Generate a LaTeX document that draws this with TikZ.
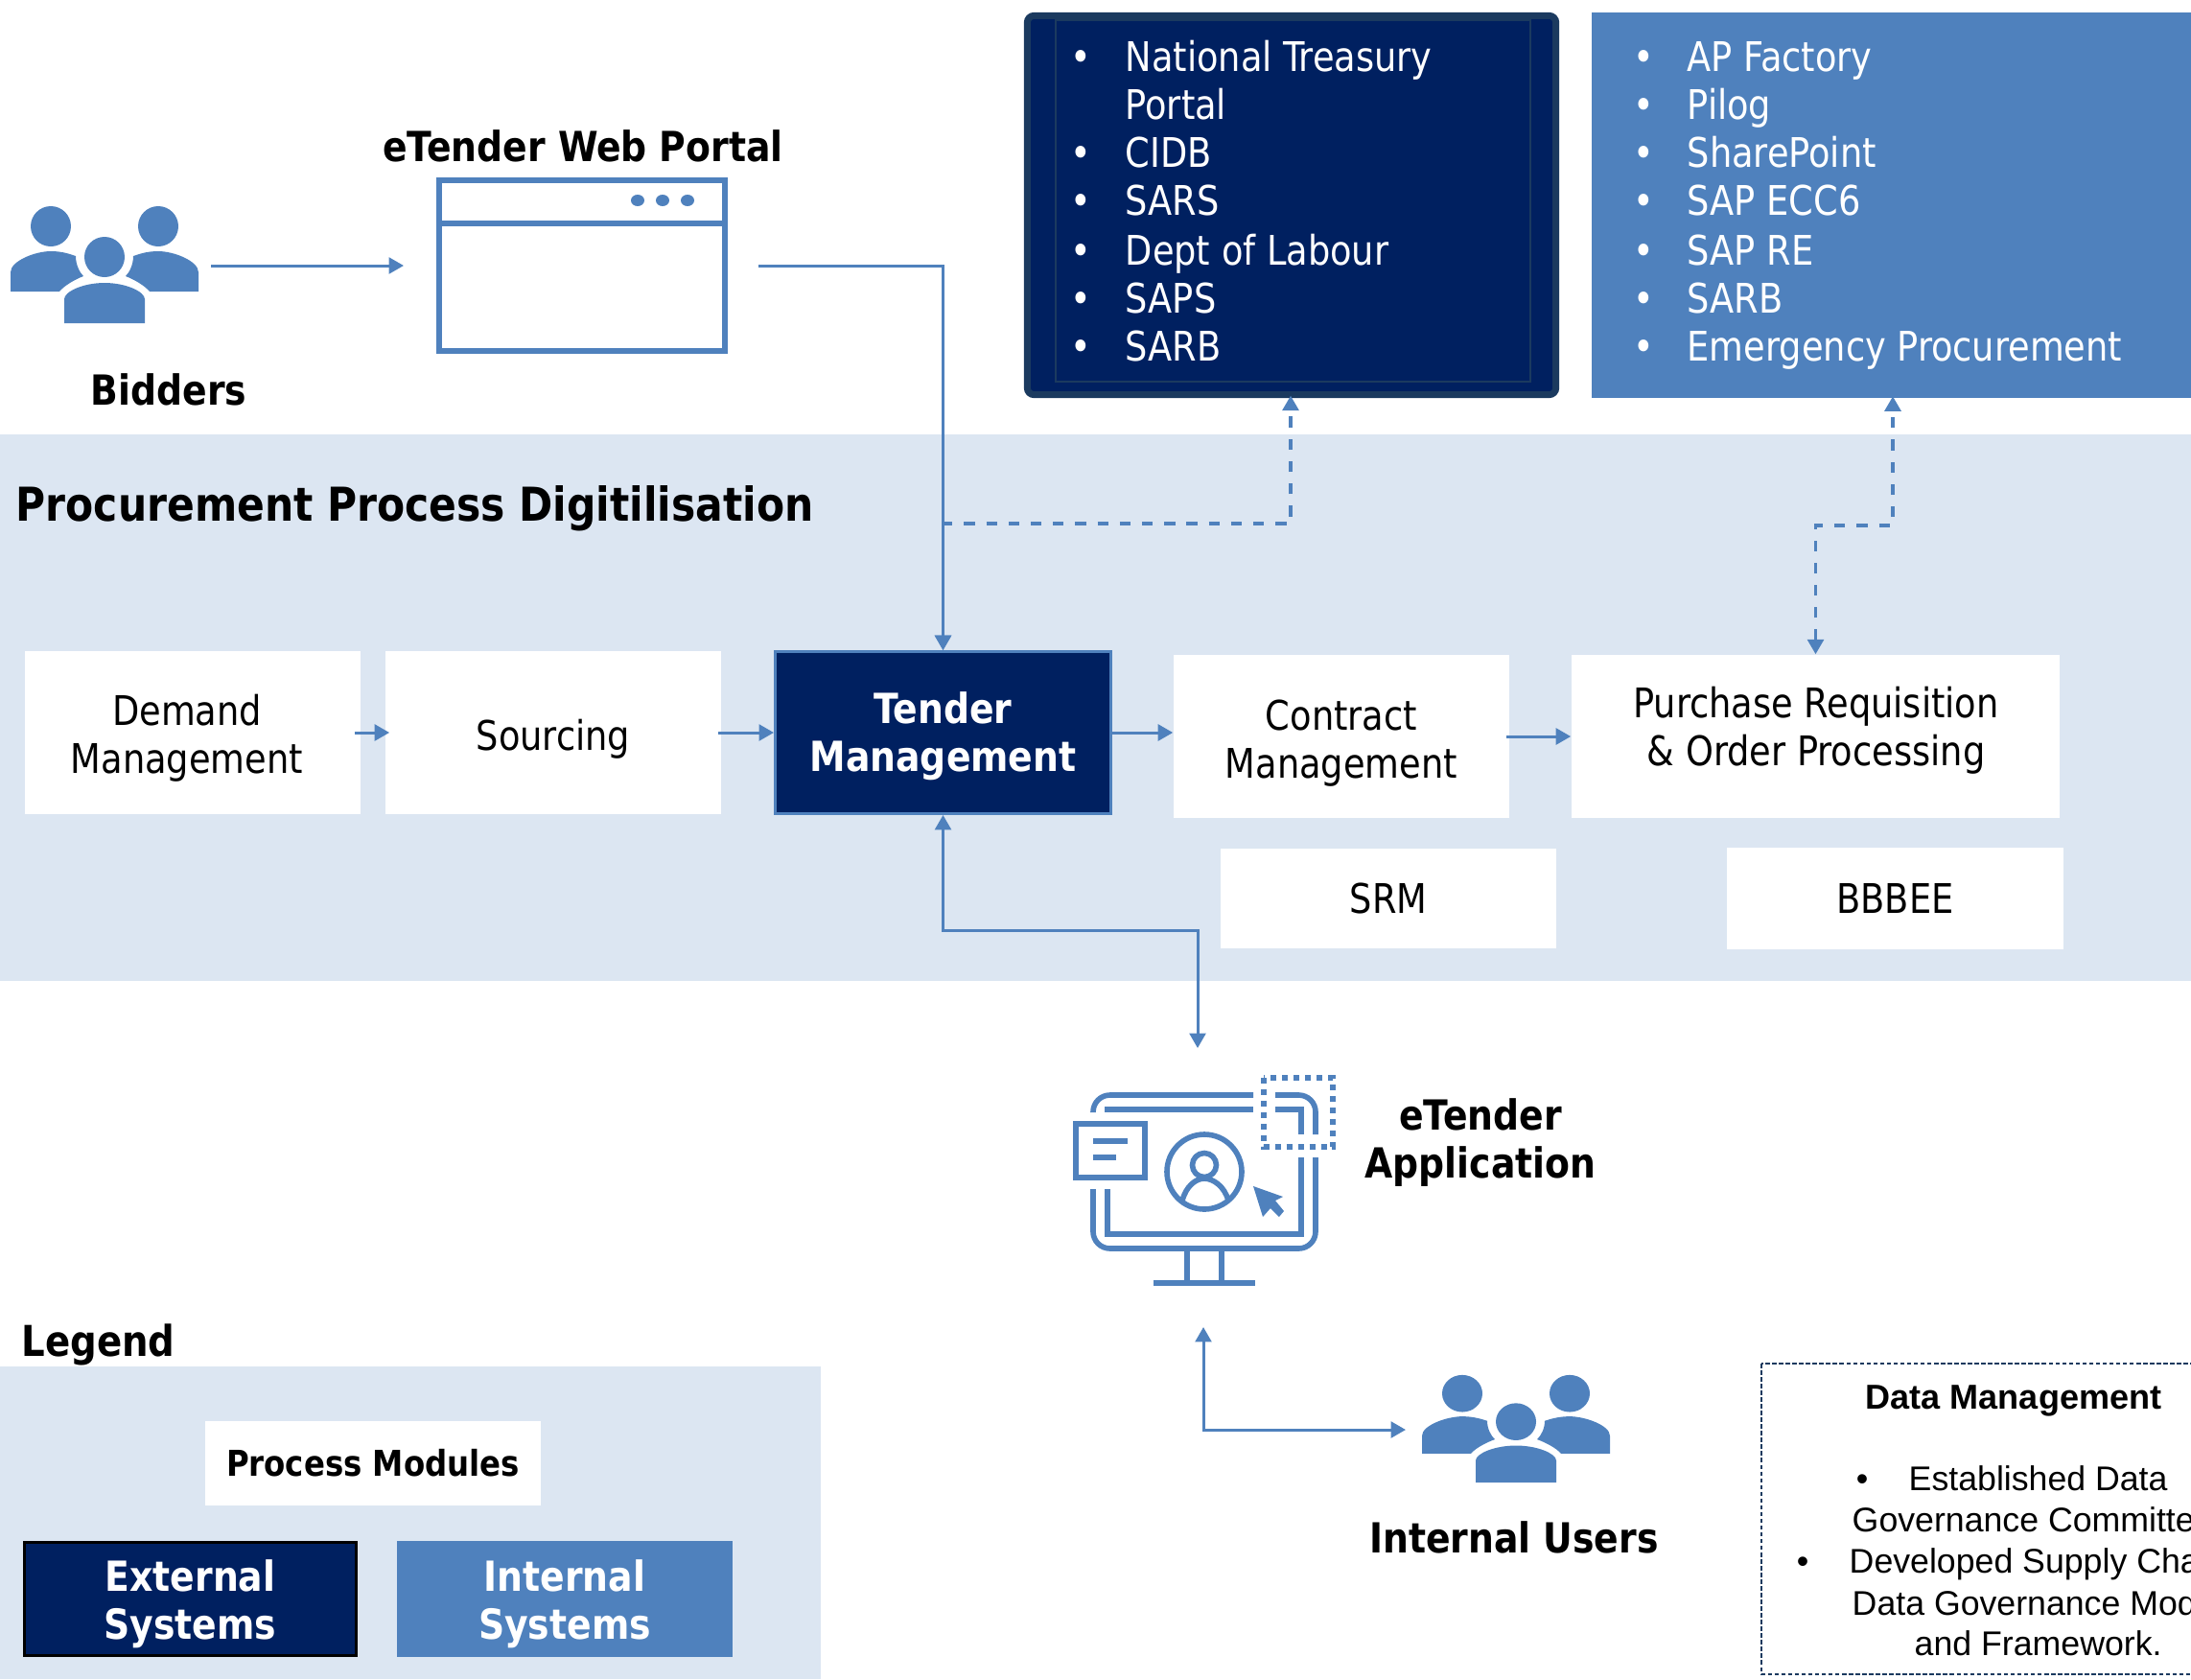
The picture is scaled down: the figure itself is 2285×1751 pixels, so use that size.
\documentclass[tikz,border=0pt]{standalone}
\usepackage{fontspec}
\usepackage{tikz}
\usetikzlibrary{shapes.geometric, arrows.meta}
\setmainfont{DejaVu Sans Condensed}[BoldFont={DejaVu Sans Condensed Bold},UprightFeatures={FakeStretch=0.96},BoldFeatures={FakeStretch=0.97}]
\newfontfamily\datafont{Liberation Sans}
\definecolor{blueline}{HTML}{4F81BD}
\definecolor{navyfill}{HTML}{002060}
\definecolor{navyedge}{HTML}{1B3A5F}
\definecolor{bandfill}{HTML}{DCE6F2}
\tikzstyle{flowarrow} = [blueline,line width=0.85pt,->,>={Stealth[length=4.4pt,width=4.8pt,inset=0pt]}]
\tikzstyle{dasharrow} = [flowarrow,line width=0.95pt,dash pattern=on 3.2pt off 3.4pt,<->,shorten >=-0.7pt]
\tikzstyle{whitebox} = [fill=white,align=center,minimum width=3.5cm,minimum height=1.7cm,font=\fontsize{12.1pt}{14.2pt}\selectfont]
\tikzstyle{navybox} = [fill=navyfill,text=white,align=center,font=\fontsize{12.3pt}{14.2pt}\selectfont\bfseries]
\tikzstyle{twolines} = [text height=23.9pt,text depth=0pt]
\tikzstyle{label} = [black,font=\fontsize{12.3pt}{14.2pt}\selectfont\bfseries]
\tikzstyle{listitem} = [text=white,anchor=base west,inner sep=0pt,font=\fontsize{12.1pt}{14.2pt}\selectfont]
\tikzstyle{datatext} = [anchor=base,inner sep=0pt,font=\fontsize{10.15pt}{12pt}\datafont]
\tikzstyle{iconline} = [blueline,line width=1.6pt]
\tikzset{peoplegroup/.pic={
 \fill[blueline] (-56,-40) circle (21);
 \fill[blueline] (56,-40) circle (21);
 \fill[blueline] (0,-8) circle (21);
 \fill[blueline] (-98,28) -- (-98,8) .. controls (-98,-4) and (-72,-14) .. (-56,-14) .. controls (-44,-14) and (-36,-11) .. (-30,-9) .. controls (-30,0) and (-26,8) .. (-22,12) .. controls (-32,16) and (-42,22) .. (-47,28) -- cycle;
 \fill[blueline] (98,28) -- (98,8) .. controls (98,-4) and (72,-14) .. (56,-14) .. controls (44,-14) and (36,-11) .. (30,-9) .. controls (30,0) and (26,8) .. (22,12) .. controls (32,16) and (42,22) .. (47,28) -- cycle;
 \fill[blueline] (-42,61) -- (-42,36) .. controls (-42,28) and (-22,19) .. (0,19) .. controls (22,19) and (42,28) .. (42,36) -- (42,61) -- cycle;
}}

\begin{document}
\begin{tikzpicture}[x=0.01cm,y=-0.01cm]
\useasboundingbox (0,0) rectangle (2285,1751);
\clip (0,0) rectangle (2285,1751);

% bands
\fill[bandfill] (0,453) rectangle (2285,1023);
\fill[bandfill] (0,1425) rectangle (856,1751);

% bidders and portal
\pic (biddersicon) at (109,276) {peoplegroup};
\node[label,anchor=base] (bidders) at (176,422) {Bidders};
\node[label,anchor=base] (portaltitle) at (608,168) {eTender Web Portal};
\node[draw=blueline,line width=1.7pt,minimum width=2.98cm,minimum height=1.78cm] (portal) at (607,277) {};
\draw[blueline,line width=1.7pt] (portal.west |- 0,233) -- (portal.east |- 0,233);
\foreach \x in {665,691,717}
{
 \fill[blueline] (\x,209) ellipse (7 and 6);
}

% source systems
\node[draw=navyedge,fill=navyfill,line width=2pt,rounded corners=2pt,minimum width=5.51cm,minimum height=3.95cm] (extsystems) at (1347,214) {};
\draw[navyedge,line width=0.5pt] (1101,21) rectangle (1596,398);
\node[fill=blueline,minimum width=6.28cm,minimum height=4.02cm] (intsystems) at (1974,214) {};
\foreach \y/\t [count=\i] in {74/National Treasury,124/Portal,174/CIDB,224/SARS,276/Dept of Labour,326/SAPS,376/SARB}
{
 \node[listitem] (ext\i) at (1173,\y) {\t};
}
\foreach \y [count=\i] in {74,174,224,276,326,376}
{
 \node[listitem] (extdot\i) at (1116,\y) {•};
}
\foreach \y/\t [count=\i] in {74/AP Factory,124/Pilog,174/SharePoint,224/SAP ECC6,276/SAP RE,326/SARB,376/Emergency Procurement}
{
 \node[listitem] (int\i) at (1759,\y) {\t};
 \node[listitem] (intdot\i) at (1703,\y) {•};
}

% process modules
\node[label,anchor=base west,inner sep=0pt,font=\fontsize{13.83pt}{17pt}\selectfont\bfseries] (bandtitle) at (16,543) {Procurement Process Digitilisation};
\node[whitebox,twolines] (demand) at (201,764) {Demand\kern3.4pt\\Management\kern3.4pt};
\node[whitebox,execute at begin node={\rule{0pt}{13pt}}] (sourcing) at (577,764) {Sourcing};
\node[navybox,twolines,text height=23pt,draw=blueline,line width=0.8pt,minimum width=3.5cm,minimum height=1.69cm] (tender) at (983.5,764) {Tender\\Management};
\node[whitebox,twolines,text height=24.7pt] (contract) at (1399,768) {Contract\\Management};
\node[whitebox,minimum width=5.09cm] (purchase) at (1893.5,768) {};
\node[align=center,font=\fontsize{12.1pt}{14.2pt}\selectfont] (purchasetext) at (1894,762) {Purchase Requisition\\\& Order Processing};
\node[whitebox,minimum height=1.04cm] (srm) at (1448,937) {SRM};
\node[whitebox,minimum height=1.05cm] (bbbee) at (1976.5,937) {BBBEE};

% monitor
\draw[iconline,rounded corners=5pt] (1140,1160) -- (1140,1142) -- (1307,1142);
\draw[iconline,rounded corners=5pt] (1330,1142) -- (1372,1142) -- (1372,1183);
\draw[iconline,rounded corners=5pt] (1372,1207) -- (1372,1302) -- (1140,1302) -- (1140,1240);
\draw[iconline] (1152,1157) -- (1307,1157);
\draw[iconline] (1330,1157) -- (1357,1157) -- (1357,1183);
\draw[iconline] (1357,1207) -- (1357,1287) -- (1155,1287) -- (1155,1240);
\draw[iconline] (1122,1172) rectangle (1194,1228);
\draw[iconline] (1140,1190) -- (1176,1190);
\draw[iconline] (1140,1207) -- (1164,1207);
\draw[iconline] (1256,1222) circle (39);
\draw[iconline] (1256,1215) circle (12.5);
\draw[iconline] (1233,1252) .. controls (1237,1237) and (1247,1229) .. (1256,1229) .. controls (1265,1229) and (1277,1237) .. (1281,1252);
\fill[blueline] (1307,1237) -- (1338,1248) -- (1330,1252) -- (1339,1263) -- (1334,1269) -- (1325,1260) -- (1317,1269) -- cycle;
\draw[iconline] (1238,1302) -- (1238,1338);
\draw[iconline] (1274,1302) -- (1274,1338);
\draw[iconline] (1203,1338) -- (1309,1338);
\draw[blueline,line width=1.7pt,dash pattern=on 1.7pt off 1.7pt] (1318,1124) rectangle (1390,1196);
\node[label,align=center] (apptext) at (1544,1192) {eTender\\Application};

% internal users
\pic[yscale=0.92] (usersicon) at (1581,1490) {peoplegroup};
\node[label,anchor=base] (users) at (1579,1619) {Internal Users};

% connectors
\coordinate (biddersout) at (220,277);
\coordinate (portalin) at (421,277);
\coordinate (portalout) at (791,277);
\coordinate (extbend) at (1346,546);
\coordinate (intbend) at (1974,548);
\coordinate (appbend) at (1249,970);
\coordinate (appin) at (1249,1093);
\coordinate (monitorout) at (1255,1384);
\coordinate (usersbend) at (1255,1491);
\coordinate (usersin) at (1466,1491);
\draw[flowarrow] (biddersout) -- (portalin);
\draw[flowarrow] (portalout) -| (tender.north);
\draw[dasharrow] (tender.north) |- (extbend) -- (extbend |- extsystems.south);
\draw[dasharrow] (purchase.north) |- (intbend) -- (intsystems.south);
\draw[flowarrow,shorten <=-2pt,shorten >=-1.4pt] (demand.east) -- (sourcing.west);
\draw[flowarrow,shorten <=-1pt] (sourcing.east) -- (tender.west);
\draw[flowarrow] (tender.east) -- (contract.west |- tender.east);
\draw[flowarrow,shorten <=-1pt] (contract.east) -- (purchase.west);
\draw[flowarrow,<->] (tender.south) |- (appbend) -- (appin);
\draw[flowarrow,<->] (monitorout) -- (usersbend) -- (usersin);

% legend
\node[label,anchor=base west,inner sep=0pt,font=\fontsize{12.6pt}{14.2pt}\selectfont\bfseries] (legend) at (22,1414) {Legend};
\node[whitebox,minimum height=0.88cm,font=\fontsize{10.55pt}{12pt}\selectfont\bfseries] (legmodules) at (389,1526) {Process Modules};
\node[navybox,twolines,draw=black,line width=0.8pt,minimum width=3.46cm,minimum height=1.18cm] (legexternal) at (198.5,1667.5) {External\\Systems};
\node[navybox,twolines,fill=blueline,minimum width=3.5cm,minimum height=1.21cm] (leginternal) at (589,1667.5) {Internal\\Systems};

% data management
\draw[navyedge,line width=0.6pt,dashed,dash pattern=on 1.3pt off 0.7pt] (1837,1422) rectangle (2400,1746);
\node[datatext,font=\fontsize{10.25pt}{12pt}\datafont\bfseries] (datatitle) at (2100,1469) {Data Management};
\node[datatext] (datadot1) at (1942,1554) {•};
\node[datatext,anchor=base west] (dataline1) at (1990,1554) {Established Data};
\node[datatext,anchor=base west] (dataline2) at (1931,1597) {Governance Committe};
\node[datatext] (datadot2) at (1880,1640) {•};
\node[datatext,anchor=base west] (dataline3) at (1928,1640) {Developed Supply Cha};
\node[datatext,anchor=base west] (dataline4) at (1931,1684) {Data Governance Mod};
\node[datatext,anchor=base west] (dataline5) at (1996,1726) {and Framework.};

\end{tikzpicture}
\end{document}
